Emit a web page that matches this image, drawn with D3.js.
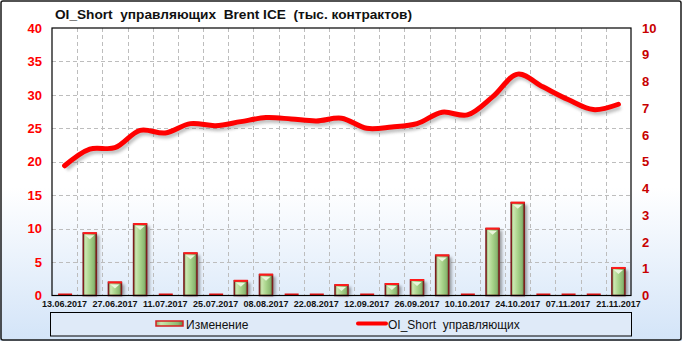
<!DOCTYPE html>
<html>
<head>
<meta charset="utf-8">
<script src="https://cdn.jsdelivr.net/npm/d3@7"></script>
<style>
    body { margin: 0; background: #fff; }
    svg { display: block; font-family: "Liberation Sans", Arial, sans-serif; }
</style>
</head>
<body>
<svg id="main-svg" width="682" height="341"></svg>
<script>

const dates = ["13.06.2017", "20.06.2017", "27.06.2017", "04.07.2017", "11.07.2017", "18.07.2017",
               "25.07.2017", "01.08.2017", "08.08.2017", "15.08.2017", "22.08.2017", "29.08.2017",
               "12.09.2017", "19.09.2017", "26.09.2017", "03.10.2017", "10.10.2017", "17.10.2017",
               "24.10.2017", "31.10.2017", "07.11.2017", "14.11.2017", "21.11.2017"];

const changeValues = [0, 2.33, 0.49, 2.67, 0, 1.58, 0, 0.55, 0.78, 0, 0, 0.39,
                      0, 0.43, 0.58, 1.5, 0, 2.5, 3.47, 0, 0, 0, 1.03];          // Изменение, right axis

const shortValues = [19.4, 21.9, 22.1, 24.7, 24.3, 25.7, 25.4, 26.0, 26.6, 26.4, 26.1, 26.5,
                     25.0, 25.2, 25.7, 27.4, 27.0, 29.7, 33.1, 31.2, 29.3, 27.8, 28.6];   // OI_Short, left axis

const leftTicks = [0, 5, 10, 15, 20, 25, 30, 35, 40];
const rightTicks = [0, 1, 2, 3, 4, 5, 6, 7, 8, 9, 10];

const titleText = "OI_Short  управляющих  Brent ICE  (тыс. контрактов)";
const legendNames = ["Изменение", "OI_Short  управляющих"];


class ComboChart {
    constructor(svg) {
        this.svg = svg;
        this.width = 682;
        this.height = 341;

        this.leftMargin = 52;
        this.rightMargin = 51;
        this.topMargin = 28;
        this.bottomMargin = 45.5;

        this.barWidth = 13;
    }

    defs() {
        const defs = this.svg.append("defs");

        const bg = defs.append("linearGradient").attr("id", "bg-grad")
            .attr("x1", 0).attr("y1", 0).attr("x2", 0).attr("y2", 1);
        bg.append("stop").attr("offset", "0.55").attr("stop-color", "#ffffff");
        bg.append("stop").attr("offset", "1").attr("stop-color", "#d3e4f8");

        const bar = defs.append("linearGradient").attr("id", "bar-grad")
            .attr("x1", 0).attr("y1", 0).attr("x2", 1).attr("y2", 0);
        bar.append("stop").attr("offset", "0").attr("stop-color", "#86ad6a");
        bar.append("stop").attr("offset", "0.18").attr("stop-color", "#cbe6b0");
        bar.append("stop").attr("offset", "0.5").attr("stop-color", "#a9d48b");
        bar.append("stop").attr("offset", "0.82").attr("stop-color", "#8cb872");
        bar.append("stop").attr("offset", "1").attr("stop-color", "#5d8546");

        defs.append("filter").attr("id", "blur")
            .attr("x", "-30%").attr("y", "-30%").attr("width", "160%").attr("height", "160%")
            .append("feGaussianBlur").attr("stdDeviation", 1.6);
    }

    plot() {
        const svg = this.svg;
        svg.selectAll("*").remove();
        this.defs();

        const x0 = this.leftMargin, x1 = this.width - this.rightMargin;
        const y0 = this.height - this.bottomMargin, y1 = this.topMargin;

        const x = d3.scaleBand().domain(dates).range([x0, x1]);
        const yLeft = d3.scaleLinear().domain([0, 40]).range([y0, y1]);
        const yRight = d3.scaleLinear().domain([0, 10]).range([y0, y1]);

        // background + frame
        svg.append("rect").attr("width", this.width).attr("height", this.height).attr("fill", "url(#bg-grad)");
        svg.append("rect").attr("x", 1).attr("y", 1).attr("width", this.width - 2).attr("height", this.height - 2)
            .attr("fill", "none").attr("stroke", "#1a1a1a").attr("stroke-width", 1.5).attr("rx", 2);

        svg.append("text")
            .attr("x", 55).attr("y", 19)
            .attr("font-size", 13).attr("font-weight", "bold").attr("fill", "#111")
            .attr("textLength", 357).attr("lengthAdjust", "spacingAndGlyphs")
            .style("white-space", "pre")
            .text(titleText);

        // grid
        const grid = svg.append("g").attr("stroke", "#bdbdbd").attr("stroke-dasharray", "4,3").attr("stroke-width", 1);
        leftTicks.slice(1, -1).forEach(t => {
            grid.append("line").attr("x1", x0).attr("x2", x1)
                .attr("y1", Math.round(yLeft(t)) + 0.5).attr("y2", Math.round(yLeft(t)) + 0.5);
        });
        dates.slice(1).forEach(d => {
            const gx = Math.round(x(d)) + 0.5;
            grid.append("line").attr("x1", gx).attr("x2", gx).attr("y1", y1).attr("y2", y0);
        });

        // bars
        const bars = svg.append("g");
        dates.forEach((d, i) => {
            const v = changeValues[i];
            const bx = x(d) + x.bandwidth() / 2 - this.barWidth / 2;
            if (v === 0) {                                                      // zero change -> flat red mark
                bars.append("rect").attr("x", bx).attr("y", y0 - 2)
                    .attr("width", this.barWidth + 1).attr("height", 2).attr("fill", "#e01010");
                return;
            }
            const top = yRight(v);
            bars.append("rect").attr("x", bx + 3).attr("y", top + 2)
                .attr("width", this.barWidth).attr("height", y0 - top - 2)
                .attr("fill", "#555").attr("opacity", 0.55).attr("filter", "url(#blur)");
            bars.append("rect").attr("x", bx).attr("y", top)
                .attr("width", this.barWidth).attr("height", y0 - top)
                .attr("fill", "url(#bar-grad)").attr("stroke", "#7d1e1e").attr("stroke-width", 1.6);
            bars.append("path")
                .attr("d", `M${bx + 2},${top + 2}L${bx + this.barWidth - 2},${top + 2}L${bx + this.barWidth / 2},${top + 6}Z`)
                .attr("fill", "#eaf6dc");
            bars.append("line").attr("x1", bx - 0.5).attr("x2", bx + this.barWidth + 0.5)
                .attr("y1", top).attr("y2", top).attr("stroke", "#ff1a1a").attr("stroke-width", 2);
        });

        // line
        const line = d3.line()
            .x((d, i) => x(dates[i]) + x.bandwidth() / 2)
            .y(d => yLeft(d))
            .curve(d3.curveCatmullRom.alpha(0.5));

        svg.append("path").datum(shortValues)
            .attr("transform", "translate(2,3)")
            .attr("d", line).attr("fill", "none").attr("stroke", "#777").attr("stroke-width", 5)
            .attr("opacity", 0.45).attr("filter", "url(#blur)");
        svg.append("path").datum(shortValues)
            .attr("d", line).attr("fill", "none").attr("stroke", "#ff0000").attr("stroke-width", 5)
            .attr("stroke-linecap", "round").attr("stroke-linejoin", "round");

        // axis frame
        svg.append("rect").attr("x", x0).attr("y", y1).attr("width", x1 - x0).attr("height", y0 - y1)
            .attr("fill", "none").attr("stroke", "#000").attr("stroke-width", 1.2);

        // left axis
        const leftAxis = svg.append("g").attr("transform", `translate(${x0},0)`)
            .call(d3.axisLeft(yLeft).tickValues(leftTicks).tickSize(0).tickPadding(10));
        leftAxis.select(".domain").remove();
        leftAxis.selectAll("text").attr("font-size", 13).attr("font-weight", "bold")
            .attr("fill", "#ff0000").attr("font-family", "Liberation Sans, Arial, sans-serif");

        // right axis
        const rightAxis = svg.append("g").attr("transform", `translate(${x1},0)`)
            .call(d3.axisRight(yRight).tickValues(rightTicks).tickSize(0).tickPadding(11));
        rightAxis.select(".domain").remove();
        rightAxis.selectAll("text").attr("font-size", 13).attr("font-weight", "bold")
            .attr("fill", "#c80000").attr("font-family", "Liberation Sans, Arial, sans-serif");

        // x labels, every second date
        const bottomAxis = svg.append("g").attr("transform", `translate(0,${y0})`)
            .call(d3.axisBottom(x).tickValues(dates.filter((d, i) => i % 2 === 0)).tickSize(0).tickPadding(5));
        bottomAxis.select(".domain").remove();
        bottomAxis.selectAll("text").attr("font-size", 9).attr("font-weight", "bold")
            .attr("fill", "#111").attr("font-family", "Liberation Sans, Arial, sans-serif");

        // legend
        const legend = svg.append("g");
        legend.append("rect").attr("x", 50.5).attr("y", 312.5).attr("width", 581).attr("height", 23.5)
            .attr("fill", "#dfeaf8").attr("stroke", "#000").attr("stroke-width", 1);
        legend.append("rect").attr("x", 156).attr("y", 321).attr("width", 27).attr("height", 5)
            .attr("fill", "url(#bar-grad)").attr("stroke", "#d42020").attr("stroke-width", 1.5);
        legend.append("text").attr("x", 186).attr("y", 328.5).attr("font-size", 12).attr("fill", "#111")
            .text(legendNames[0]);
        legend.append("line").attr("x1", 358).attr("x2", 386).attr("y1", 323.5).attr("y2", 323.5)
            .attr("stroke", "#ff0000").attr("stroke-width", 4).attr("stroke-linecap", "round");
        legend.append("text").attr("x", 388).attr("y", 328.5).attr("font-size", 12).attr("fill", "#111")
            .style("white-space", "pre")
            .text(legendNames[1]);
    }
}

const chart = new ComboChart(d3.select("#main-svg"));
chart.plot();
</script>
</body>
</html>
